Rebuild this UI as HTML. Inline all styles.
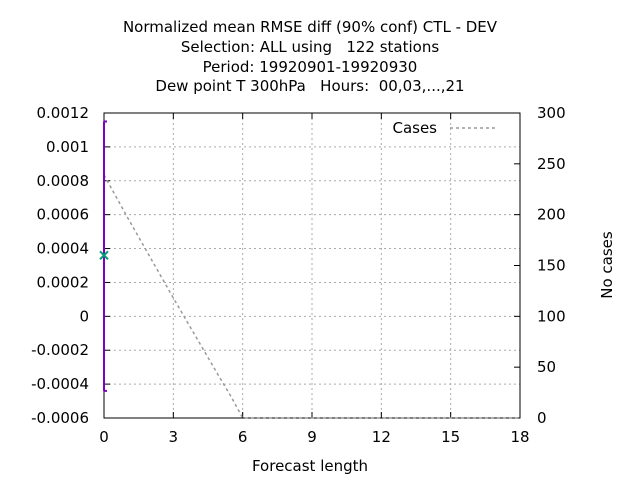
<!DOCTYPE html>
<html><head><meta charset="utf-8"><style>
body{margin:0;background:#fff;}
svg{display:block;font-family:"DejaVu Sans","Liberation Sans",sans-serif;}
text{white-space:pre;}
</style></head><body>
<svg id="chart" width="640" height="480" viewBox="0 0 640 480">
<g font-size="15" text-anchor="middle" fill="#000">
<text x="310" y="32">Normalized mean RMSE diff (90% conf) CTL - DEV</text>
<text x="310" y="52">Selection: ALL using   122 stations</text>
<text x="310" y="72">Period: 19920901-19920930</text>
<text x="310" y="91">Dew point T 300hPa   Hours:  00,03,...,21</text>
</g>
<g id="grid"></g>
<g id="axes"></g>
<g id="marks"></g>
<text x="310" y="471" font-size="15" text-anchor="middle">Forecast length</text>
<text transform="translate(612,265) rotate(-90)" font-size="15" text-anchor="middle">No cases</text>
<g>
<text x="437" y="133" font-size="15" text-anchor="end">Cases</text>
<line x1="450" y1="128" x2="495" y2="128" stroke="#999" stroke-width="1.5" stroke-dasharray="3,3"/>
</g>
</svg>
<script>
const xTicks=[0,3,6,9,12,15,18];
const yTicks=[-0.0006,-0.0004,-0.0002,0,0.0002,0.0004,0.0006,0.0008,0.001,0.0012];
const yTickLabels=["-0.0006","-0.0004","-0.0002","0","0.0002","0.0004","0.0006","0.0008","0.001","0.0012"];
const y2Ticks=[0,50,100,150,200,250,300];
const caseX=[0,1,2,3,4,5,5.5,6,9,12,15,18];
const caseVals=[239,198,158,118,79,40,21,0,0,0,0,0];
const diffX=[0];
const diffVals=[0.00036];
const diffLo=[-0.00044];
const diffHi=[0.00115];
const L=104,R=520,T=113,B=418;
const xs=v=>L+(v-0)/(18-0)*(R-L);
const ys=v=>B-(v+0.0006)/(0.0018)*(B-T);
const y2s=v=>B-v/300*(B-T);
const NS="http://www.w3.org/2000/svg";
function mk(p,t,a){const e=document.createElementNS(NS,t);for(const k in a)e.setAttribute(k,a[k]);p.appendChild(e);return e;}
const grid=document.getElementById('grid'),axes=document.getElementById('axes'),marks=document.getElementById('marks');
xTicks.forEach((v,i)=>{
 if(i>0&&i<xTicks.length-1){const g=mk(grid,'line',{x1:xs(v),x2:xs(v),y1:T,y2:B,stroke:'#aaa','stroke-dasharray':'2,3'});
 }
 const t=mk(axes,'line',{x1:xs(v),x2:xs(v),y1:B,y2:B-6,stroke:'#000'});
 
 const t2=mk(axes,'line',{x1:xs(v),x2:xs(v),y1:T,y2:T+6,stroke:'#000'});
 
 const l=mk(axes,'text',{x:xs(v),y:B+24,'font-size':15,'text-anchor':'middle'});l.textContent=v;
 
});
yTicks.forEach((v,i)=>{
 if(i>0&&i<yTicks.length-1){const g=mk(grid,'line',{x1:L,x2:R,y1:ys(v),y2:ys(v),stroke:'#aaa','stroke-dasharray':'2,3'});
 }
 const t=mk(axes,'line',{x1:L,x2:L+6,y1:ys(v),y2:ys(v),stroke:'#000'});
 
 const l=mk(axes,'text',{x:89,y:ys(v)+5,'font-size':15,'text-anchor':'end'});l.textContent=yTickLabels[i];
 
});
y2Ticks.forEach(v=>{
 const t=mk(axes,'line',{x1:R,x2:R-6,y1:y2s(v),y2:y2s(v),stroke:'#000'});
 
 const l=mk(axes,'text',{x:537,y:y2s(v)+5,'font-size':15});l.textContent=v;
 
});
const fr=mk(axes,'rect',{x:L,y:T,width:R-L,height:B-T,fill:'none',stroke:'#000'});

const cl=mk(marks,'polyline',{points:caseX.map((x,i)=>xs(x)+','+y2s(caseVals[i])).join(' '),fill:'none',stroke:'#999','stroke-width':1.5,'stroke-dasharray':'3,3'});

diffX.forEach((x,i)=>{
 const eb=mk(marks,'line',{x1:xs(x),x2:xs(x),y1:ys(diffLo[i]),y2:ys(diffHi[i]),stroke:'#8000c0','stroke-width':2});
 
 [diffLo[i],diffHi[i]].forEach(v=>{const c=mk(marks,'line',{x1:xs(x),x2:xs(x)+3,y1:ys(v),y2:ys(v),stroke:'#8000c0','stroke-width':2});
 });
 const px=xs(x),py=ys(diffVals[i]);
 const p=mk(marks,'path',{d:`M${px-4},${py-4}L${px+4},${py+4}M${px-4},${py+4}L${px+4},${py-4}`,stroke:'#009e73','stroke-width':2});
 
});
</script>
</body></html>
